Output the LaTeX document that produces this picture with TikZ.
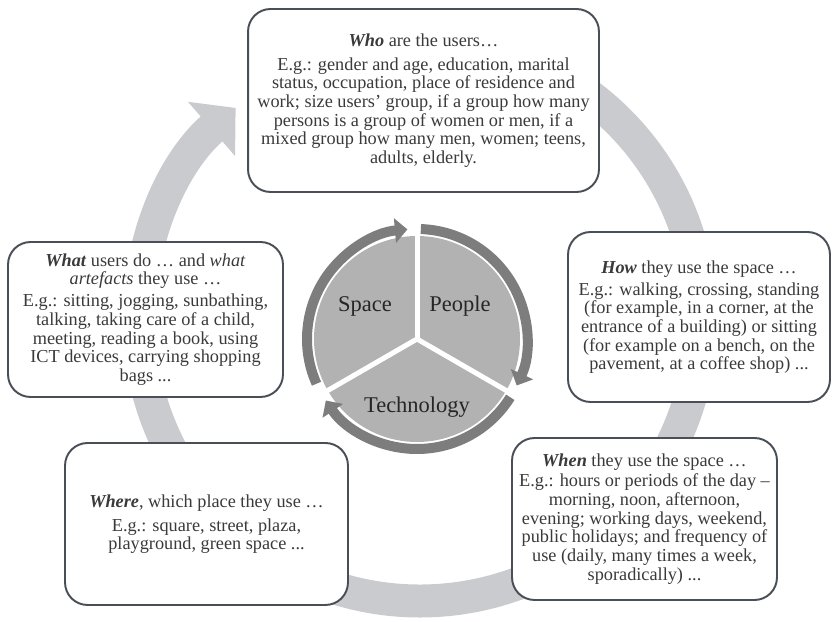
\documentclass[tikz,border=0pt]{standalone}
\usepackage{fontspec}
\setmainfont{Liberation Serif}
\usetikzlibrary{arrows.meta}
\definecolor{ringgrey}{RGB}{202,203,206}
\definecolor{piegrey}{RGB}{178,178,178}
\definecolor{arcgrey}{RGB}{125,125,125}
\definecolor{edgegrey}{RGB}{74,78,87}
\definecolor{txtgrey}{RGB}{58,58,58}
\newcommand{\hd}[1]{\textbf{\textit{#1}}}

\begin{document}
\begin{tikzpicture}[x=0.02cm,y=0.02cm,
    box/.style={draw=edgegrey,line width=1.1pt,fill=white,rounded corners=0.45cm,
      align=center,text=txtgrey,font=\fontsize{10.4}{10.6}\selectfont,inner sep=0pt},
    piearc/.style={arcgrey,line width=0.2cm,-{Triangle[width=0.48cm,length=0.25cm]}},
    lbl/.style={font=\fontsize{12.8}{14}\selectfont,text=black!85}]
    \useasboundingbox (0,0) rectangle (832,622);
    % big cycle arrow behind the boxes
    \draw[ringgrey,line width=0.66cm,-{Triangle[width=1.4cm,length=0.64cm]}]
      (420,302) ++(95:281) arc (95:-229:281);
    % the pie in the middle
    \coordinate (c) at (417,283);
    \fill[piegrey] (c) circle (103);
    \foreach \a in {90,-30,210}
      \draw[white,line width=0.1cm] (c) -- ++(\a:106);
    \draw[piearc] (c) ++(204:110) arc (204:95:110);
    \draw[piearc] (c) ++(88:110) arc (88:-25:110);
    \draw[piearc] (c) ++(-32:110) arc (-32:-146:110);
    \node[lbl] (space) at (365,316) {Space};
    \node[lbl] (people) at (460,316) {People};
    \node[lbl] (tech) at (417,215) {Technology};
    % the five boxes
    \node[box,minimum width=7.02cm,minimum height=3.66cm] (who) at (423.5,521.5)
      {\hd{Who} are the users…\\[3pt]
       E.g.: gender and age, education, marital\\
       status, occupation, place of residence and\\
       work; size users' group, if a group how many\\
       persons is a group of women or men, if a\\
       mixed group how many men, women; teens,\\
       adults, elderly.};
    \node[box,minimum width=5.5cm,minimum height=3.1cm] (what) at (145.5,302.5)
      {\hd{What} users do … and \textit{what}\\
       \textit{artefacts} they use …\\[2pt]
       E.g.: sitting, jogging, sunbathing,\\
       talking, taking care of a child,\\
       meeting, reading a book, using\\
       ICT devices, carrying shopping\\
       bags ...};
    \node[box,minimum width=5.24cm,minimum height=3.4cm] (how) at (699,305)
      {\hd{How} they use the space …\\[2pt]
       E.g.: walking, crossing, standing\\
       (for example, in a corner, at the\\
       entrance of a building) or sitting\\
       (for example on a bench, on the\\
       pavement, at a coffee shop) ...};
    \node[box,minimum width=5.3cm,minimum height=3.24cm] (when) at (644.5,103)
      {\hd{When} they use the space …\\[1pt]
       E.g.: hours or periods of the day –\\
       morning, noon, afternoon,\\
       evening; working days, weekend,\\
       public holidays; and frequency of\\
       use (daily, many times a week,\\
       sporadically) ...};
    \node[box,minimum width=5.66cm,minimum height=3.24cm] (where) at (206.5,98)
      {\hd{Where}, which place they use …\\[3pt]
       E.g.: square, street, plaza,\\
       playground, green space ...};
\end{tikzpicture}
\end{document}
